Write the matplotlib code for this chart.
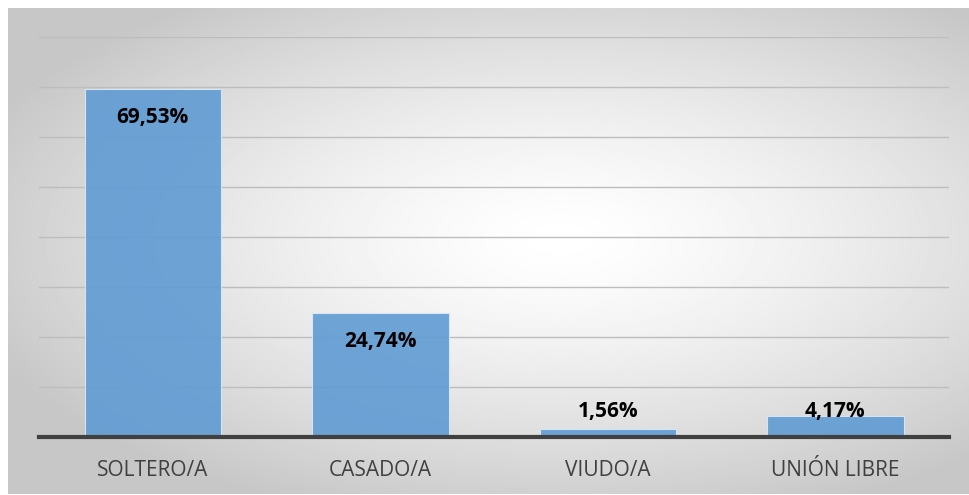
import numpy as np
import matplotlib.pyplot as plt

categories = ["SOLTERO/A", "CASADO/A", "VIUDO/A", "UNIÓN LIBRE"]
values = [69.53, 24.74, 1.56, 4.17]
labels = ["69,53%", "24,74%", "1,56%", "4,17%"]

W, H = 969, 495
fig = plt.figure(figsize=(W / 100, H / 100), dpi=100)
fig.patch.set_facecolor("white")

# radial gradient background
bg = fig.add_axes([8 / W, 1 / H, 961 / W, 486 / H], zorder=-1)
yy, xx = np.mgrid[-1:1:300j, -1:1:600j]
r = np.sqrt(((xx - 0.15) / 1.3) ** 2 + ((yy + 0.05) / 1.2) ** 2)
r = np.clip(r, 0, 1)
shade = 1.0 - 0.22 * r ** 1.4
bg.imshow(shade, cmap="gray", vmin=0, vmax=1, aspect="auto", extent=[0, 1, 0, 1])
bg.axis("off")

ax = fig.add_axes([39 / W, (H - 437) / H, 910 / W, 400 / H])
ax.patch.set_alpha(0)
x = np.arange(len(categories))
ax.bar(x, values, width=0.6, color="#5f9bd3", alpha=0.9, edgecolor="#dce9f5",
       linewidth=0.8, zorder=3)
ax.set_xlim(-0.5, len(categories) - 0.5)
ax.set_ylim(0, 80)
ax.set_yticks(np.arange(10, 81, 10))
ax.yaxis.grid(True, color="#bdbdbd", linewidth=1)
ax.set_axisbelow(True)
ax.tick_params(axis="y", left=False, labelleft=False)
ax.tick_params(axis="x", bottom=False, pad=13)
ax.set_xticks(x)
ax.set_xticklabels(categories, fontsize=15, color="#404040", family="Open Sans")
for s in ["top", "right", "left"]:
    ax.spines[s].set_visible(False)
ax.spines["bottom"].set_color("#404040")
ax.spines["bottom"].set_linewidth(3)
ax.spines["bottom"].set_zorder(4)

for xi, v, lab in zip(x, values, labels):
    ax.text(xi, max(v - 5.7, 5.0), lab, ha="center", va="center",
            fontsize=15, fontweight="bold", color="black", family="Open Sans", zorder=5)

fig.savefig("out.png", dpi=100)
